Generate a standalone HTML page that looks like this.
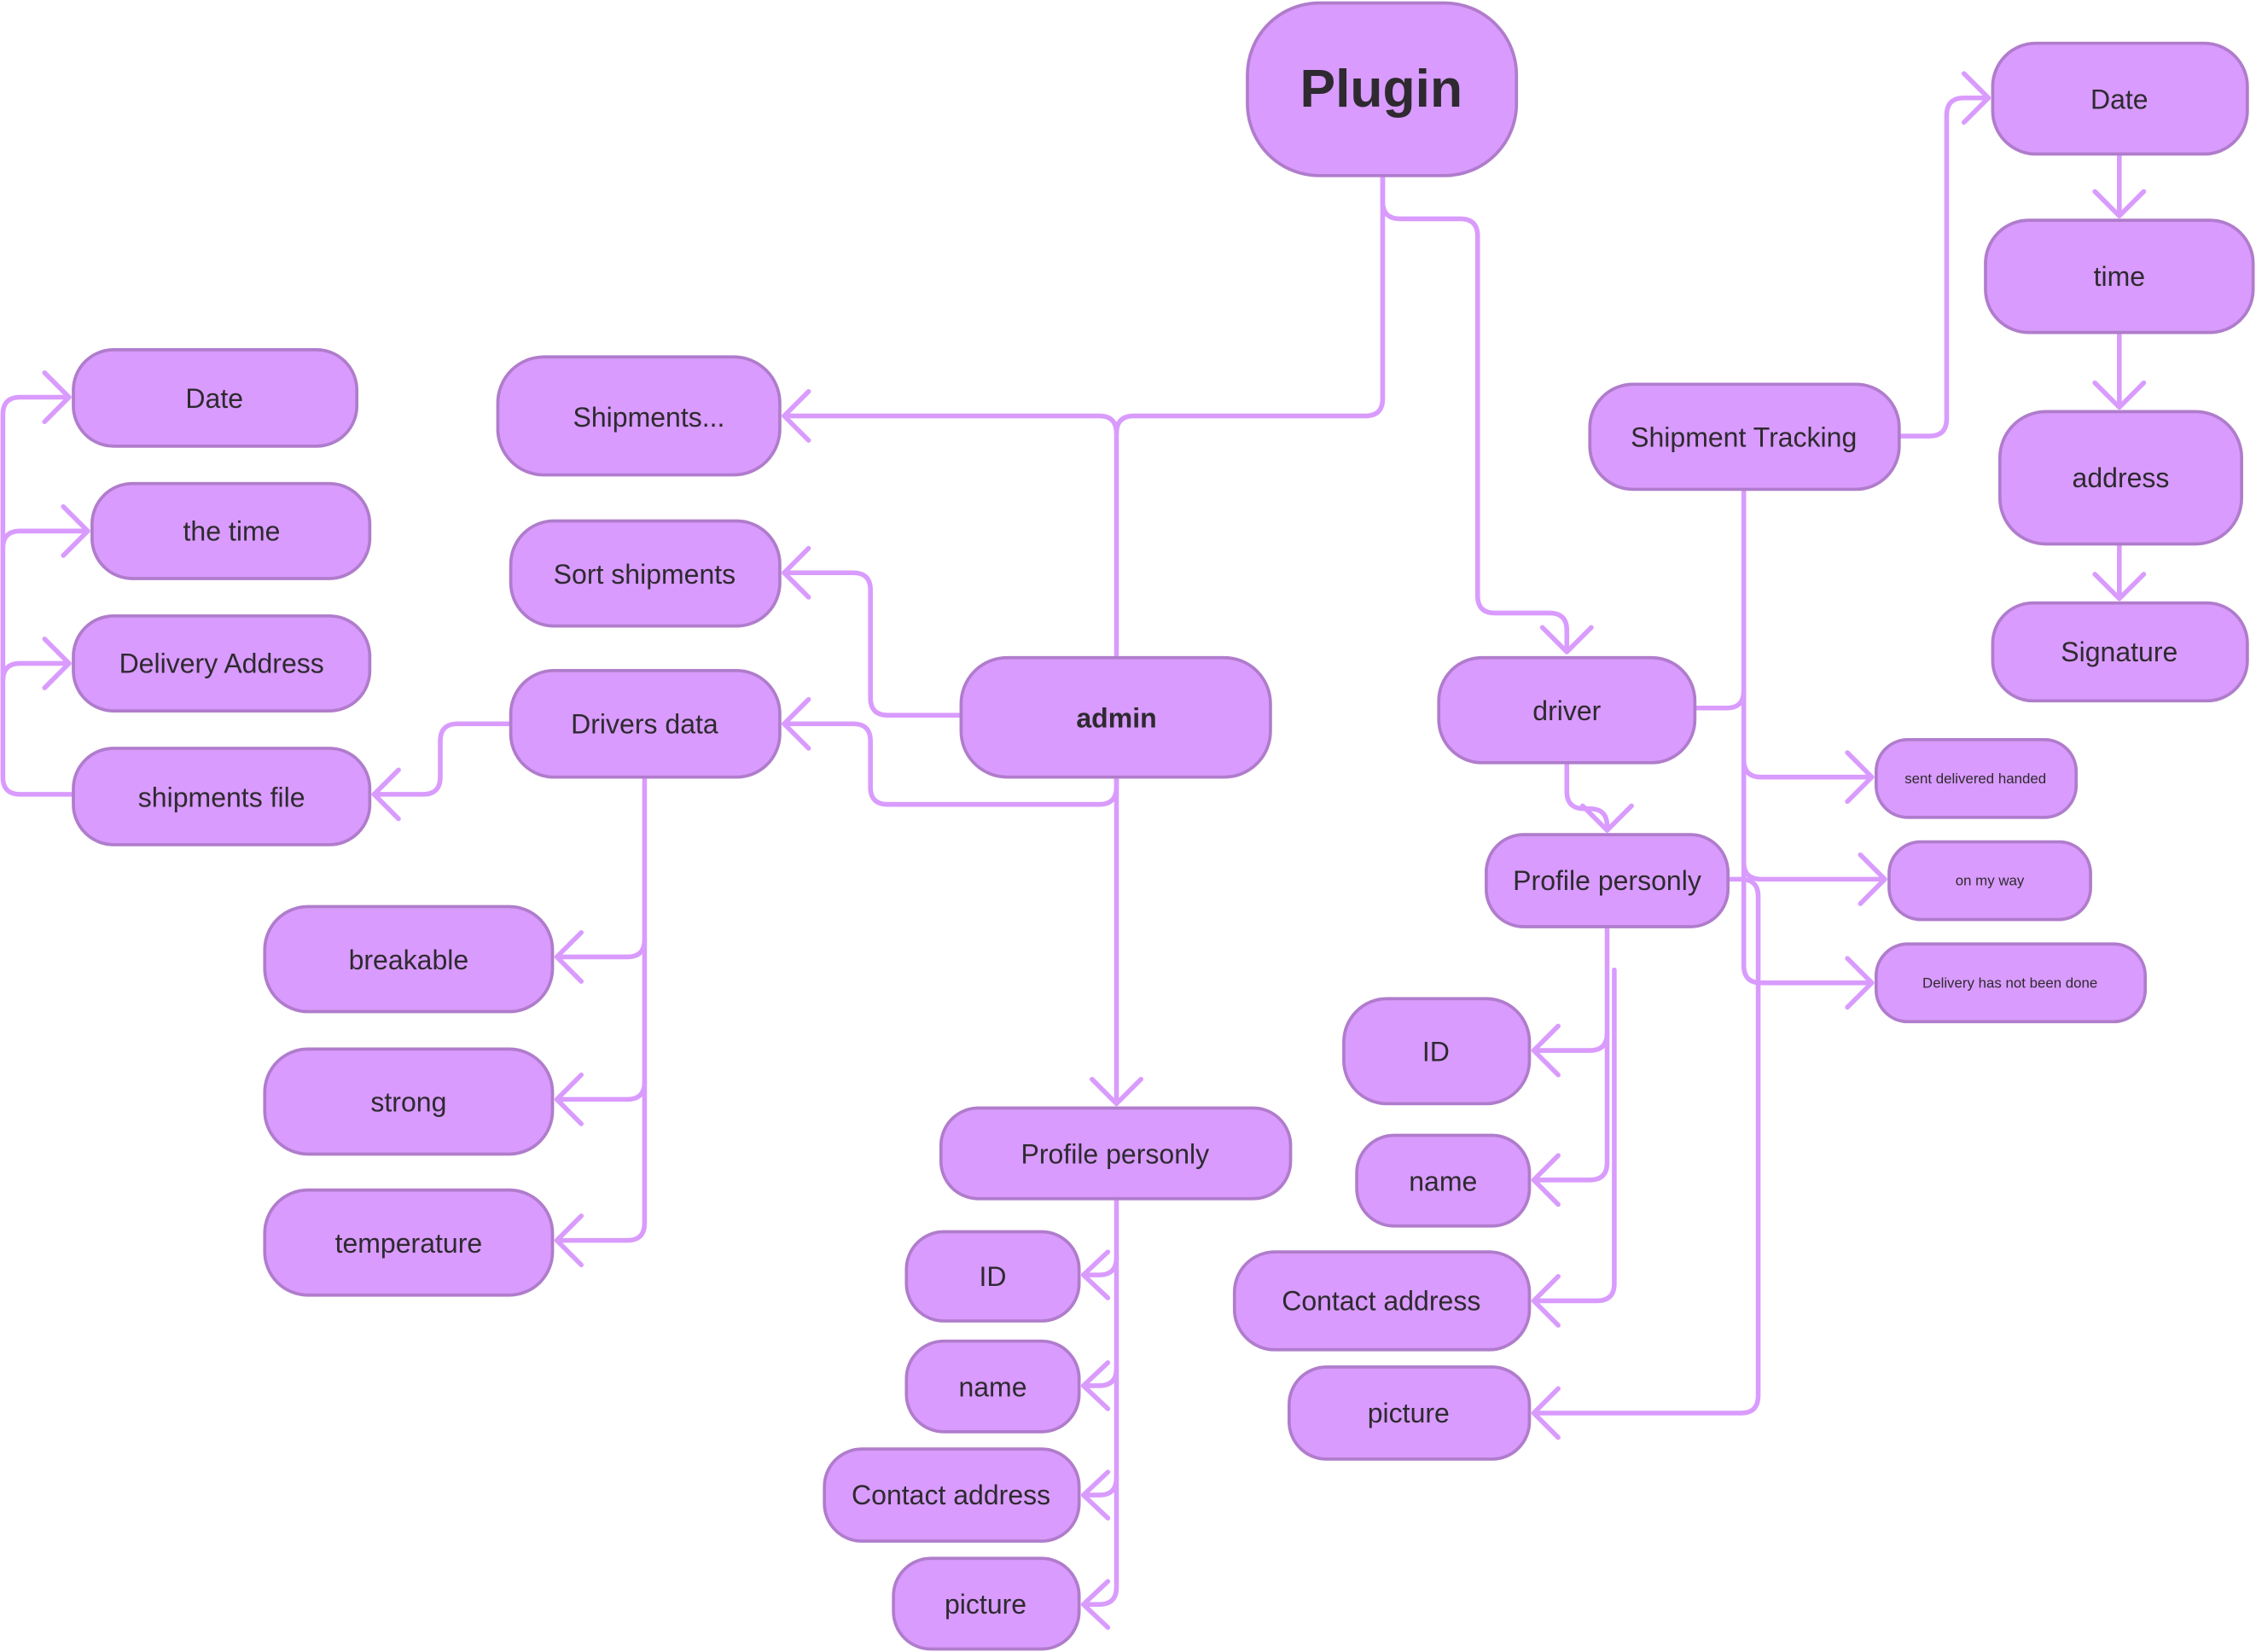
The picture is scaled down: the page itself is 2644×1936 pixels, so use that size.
<!DOCTYPE html>
<html><head><meta charset="utf-8"><style>
html,body{margin:0;padding:0;background:#fff;}
svg{display:block}
text{font-family:"Liberation Sans",sans-serif;fill:#2e2a30;text-anchor:middle;dominant-baseline:central}
.b{fill:#d99bfd;stroke:#b07ccc;stroke-width:2.2}
.l{fill:none;stroke:#d99bfd;stroke-width:3.3;stroke-linecap:round;stroke-linejoin:round}
</style></head><body>
<svg width="2644" height="1936" viewBox="0 0 1568 1148" xmlns="http://www.w3.org/2000/svg">
<g class="l">
<path d="M961,122 V277 Q961,289 949,289 H788 Q776,289 776,301 V455"/>
<path d="M776,301 Q776,289 764,289 H545"/>
<path d="M562,272 L545,289 L562,306"/>
<path d="M961,122 V140 Q961,152 973,152 H1015 Q1027,152 1027,164 V414 Q1027,426 1039,426 H1077 Q1089,426 1089,438 V453"/>
<path d="M1072,436 L1089,453 L1106,436"/>
<path d="M668,497 H617 Q605,497 605,485 V410 Q605,398 593,398 H545"/>
<path d="M562,381 L545,398 L562,415"/>
<path d="M776,540 V547 Q776,559 764,559 H617 Q605,559 605,547 V515 Q605,503 593,503 H545"/>
<path d="M562,486 L545,503 L562,520"/>
<path d="M776,540 V767"/>
<path d="M759,750 L776,767 L793,750"/>
<path d="M776,833 V1103 Q776,1115 764,1115 H753"/>
<path d="M776,874 Q776,886 764,886 H753"/>
<path d="M776,951 Q776,963 764,963 H753"/>
<path d="M776,1027 Q776,1039 764,1039 H753"/>
<path d="M770,870 L753,886 L770,902"/>
<path d="M770,947 L753,963 L770,979"/>
<path d="M770,1023 L753,1039 L770,1055"/>
<path d="M770,1099 L753,1115 L770,1131"/>
<path d="M355,503 H318 Q306,503 306,515 V540 Q306,552 294,552 H260"/>
<path d="M277,535 L260,552 L277,569"/>
<path d="M448,540 V850 Q448,862 436,862 H387"/>
<path d="M448,653 Q448,665 436,665 H387"/>
<path d="M448,752 Q448,764 436,764 H387"/>
<path d="M404,648 L387,665 L404,682"/>
<path d="M404,747 L387,764 L404,781"/>
<path d="M404,845 L387,862 L404,879"/>
<path d="M51,552 H14 Q2,552 2,540 V288 Q2,276 14,276 H48"/>
<path d="M2,381 Q2,369 14,369 H61"/>
<path d="M2,473 Q2,461 14,461 H48"/>
<path d="M31,259 L48,276 L31,293"/>
<path d="M44,352 L61,369 L44,386"/>
<path d="M31,444 L48,461 L31,478"/>
<path d="M1320,303 H1341 Q1353,303 1353,291 V80 Q1353,68 1365,68 H1382"/>
<path d="M1365,51 L1382,68 L1365,85"/>
<path d="M1473,107 V150 M1456,133 L1473,150 L1490,133"/>
<path d="M1473,231 V283 M1456,266 L1473,283 L1490,266"/>
<path d="M1473,378 V416 M1456,399 L1473,416 L1490,399"/>
<path d="M1212,340 V671 Q1212,683 1224,683 H1301"/>
<path d="M1212,528 Q1212,540 1224,540 H1301"/>
<path d="M1212,599 Q1212,611 1224,611 H1310"/>
<path d="M1284,523 L1301,540 L1284,557"/>
<path d="M1293,594 L1310,611 L1293,628"/>
<path d="M1284,666 L1301,683 L1284,700"/>
<path d="M1178,492 H1200 Q1212,492 1212,480"/>
<path d="M1089,530 V550 Q1089,562 1101,562 H1105 Q1117,562 1117,574 V577"/>
<path d="M1100,560 L1117,577 L1134,560"/>
<path d="M1201,611 H1210 Q1222,611 1222,623 V970 Q1222,982 1210,982 H1066"/>
<path d="M1083,965 L1066,982 L1083,999"/>
<path d="M1117,644 V718 Q1117,730 1105,730 H1066"/>
<path d="M1117,718 V808 Q1117,820 1105,820 H1066"/>
<path d="M1122,674 V892 Q1122,904 1110,904 H1066"/>
<path d="M1083,713 L1066,730 L1083,747"/>
<path d="M1083,803 L1066,820 L1083,837"/>
<path d="M1083,887 L1066,904 L1083,921"/>
</g>
<g>
<rect class="b" x="867" y="2" width="187" height="120" rx="50"/><text x="960" y="62" font-size="37" font-weight="bold">Plugin</text>
<rect class="b" x="1385" y="30" width="177" height="77" rx="30"/><text x="1473" y="69" font-size="19">Date</text>
<rect class="b" x="1380" y="153" width="186" height="78" rx="30"/><text x="1473" y="192" font-size="19">time</text>
<rect class="b" x="1390" y="286" width="168" height="92" rx="32"/><text x="1474" y="332" font-size="19">address</text>
<rect class="b" x="1385" y="419" width="177" height="68" rx="28"/><text x="1473" y="453" font-size="19">Signature</text>
<rect class="b" x="1105" y="267" width="215" height="73" rx="30"/><text x="1212" y="304" font-size="19">Shipment Tracking</text>
<rect class="b" x="1000" y="457" width="178" height="73" rx="30"/><text x="1089" y="494" font-size="19">driver</text>
<rect class="b" x="1304" y="514" width="139" height="54" rx="22"/><text x="1373" y="541" font-size="10">sent delivered handed</text>
<rect class="b" x="1313" y="585" width="140" height="54" rx="22"/><text x="1383" y="612" font-size="10">on my way</text>
<rect class="b" x="1304" y="656" width="187" height="54" rx="22"/><text x="1397" y="683" font-size="10">Delivery has not been done</text>
<rect class="b" x="1033" y="580" width="168" height="64" rx="26"/><text x="1117" y="612" font-size="19">Profile personly</text>
<rect class="b" x="934" y="694" width="129" height="73" rx="30"/><text x="998" y="731" font-size="19">ID</text>
<rect class="b" x="943" y="789" width="120" height="63" rx="26"/><text x="1003" y="821" font-size="19">name</text>
<rect class="b" x="858" y="870" width="205" height="68" rx="28"/><text x="960" y="904" font-size="19">Contact address</text>
<rect class="b" x="896" y="950" width="167" height="64" rx="26"/><text x="979" y="982" font-size="19">picture</text>
<rect class="b" x="668" y="457" width="215" height="83" rx="32"/><text x="776" y="499" font-size="19" font-weight="bold">admin</text>
<rect class="b" x="346" y="248" width="196" height="82" rx="32"/><text x="451" y="290" font-size="19">Shipments...</text>
<rect class="b" x="355" y="362" width="187" height="73" rx="30"/><text x="448" y="399" font-size="19">Sort shipments</text>
<rect class="b" x="355" y="466" width="187" height="74" rx="30"/><text x="448" y="503" font-size="19">Drivers data</text>
<rect class="b" x="51" y="243" width="197" height="67" rx="28"/><text x="149" y="277" font-size="19">Date</text>
<rect class="b" x="64" y="336" width="193" height="66" rx="28"/><text x="161" y="369" font-size="19">the time</text>
<rect class="b" x="51" y="428" width="206" height="66" rx="28"/><text x="154" y="461" font-size="19">Delivery Address</text>
<rect class="b" x="51" y="520" width="206" height="67" rx="28"/><text x="154" y="554" font-size="19">shipments file</text>
<rect class="b" x="184" y="630" width="200" height="73" rx="30"/><text x="284" y="667" font-size="19">breakable</text>
<rect class="b" x="184" y="729" width="200" height="73" rx="30"/><text x="284" y="766" font-size="19">strong</text>
<rect class="b" x="184" y="827" width="200" height="73" rx="30"/><text x="284" y="864" font-size="19">temperature</text>
<rect class="b" x="654" y="770" width="243" height="63" rx="26"/><text x="775" y="802" font-size="19">Profile personly</text>
<rect class="b" x="630" y="856" width="120" height="62" rx="26"/><text x="690" y="887" font-size="19">ID</text>
<rect class="b" x="630" y="932" width="120" height="63" rx="26"/><text x="690" y="964" font-size="19">name</text>
<rect class="b" x="573" y="1007" width="177" height="64" rx="26"/><text x="661" y="1039" font-size="19">Contact address</text>
<rect class="b" x="621" y="1083" width="129" height="63" rx="26"/><text x="685" y="1115" font-size="19">picture</text>
</g>
</svg>
</body></html>
